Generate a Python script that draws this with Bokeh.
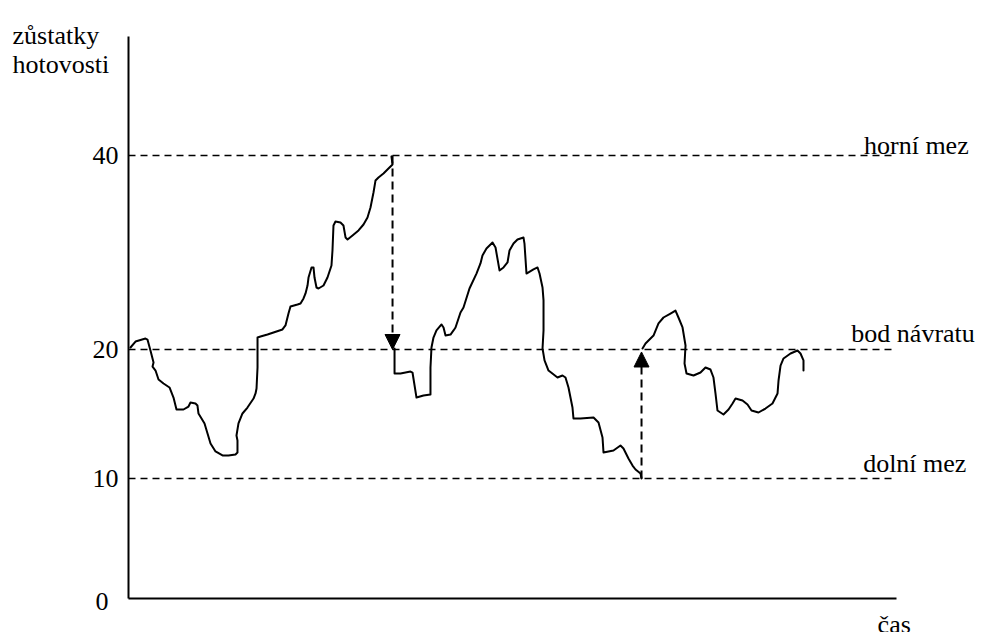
from bokeh.plotting import figure
from bokeh.models import Range1d, FixedTicker, Label, Arrow, NormalHead
from bokeh.embed import file_html
from bokeh.resources import INLINE

# ---- data (schematic units: time 0..100, cash balance on the drawn scale) ----
t1 = [0.26, 0.91, 2.21, 2.47, 2.86, 3.26, 3.13, 3.52, 3.91, 4.56, 5.34, 5.86, 6.25, 7.16, 7.81,
      8.07, 8.72, 8.98, 9.11, 9.51, 9.90, 10.29, 10.68, 11.33, 12.24, 13.02, 13.93, 14.19, 14.19,
      14.06, 14.32, 14.84, 15.49, 16.28, 16.54, 16.67, 16.80, 16.80, 17.19, 18.10, 18.88, 20.05,
      20.44, 20.83, 21.09, 22.01, 22.40, 22.79, 23.05, 23.31, 23.44, 23.83, 24.09, 24.22, 24.48,
      24.74, 25.39, 25.91, 26.43, 26.56, 26.69, 26.95, 27.60, 27.99, 28.26, 28.52, 29.17, 29.95,
      30.60, 31.12, 31.51, 31.90, 32.16, 32.55, 33.20, 33.85, 34.38, 34.24]
v1 = [20.16, 20.64, 20.88, 20.80, 19.92, 18.96, 18.63, 18.31, 17.59, 17.27, 16.95, 16.14, 15.18,
      15.18, 15.42, 15.74, 15.66, 15.50, 14.86, 14.46, 14.06, 13.25, 12.45, 11.81, 11.49, 11.49,
      11.57, 11.73, 12.69, 13.09, 14.06, 14.86, 15.34, 16.06, 16.47, 16.87, 18.55, 20.96, 21.04,
      21.20, 21.37, 21.61, 21.93, 22.89, 23.45, 23.61, 23.69, 24.10, 24.50, 25.14, 25.78, 26.59,
      26.59, 25.78, 24.98, 24.90, 25.14, 25.78, 26.75, 27.95, 29.96, 30.28, 30.20, 29.96, 29.00,
      28.84, 29.16, 29.56, 30.04, 30.60, 31.41, 32.61, 33.57, 33.82, 34.14, 34.54, 34.86, 35.50]

t2 = [34.64, 34.64, 35.42, 36.72, 36.98, 37.50, 38.41, 39.32, 39.32, 39.45, 39.71, 40.10, 40.76,
      41.02, 41.28, 41.93, 42.32, 42.58, 43.23, 43.62, 44.40, 45.31, 45.83, 46.09, 46.61, 47.40,
      47.79, 48.31, 48.83, 49.35, 49.61, 50.13, 50.65, 51.43, 51.56, 51.82, 52.73, 53.26, 53.52,
      53.91, 54.04, 54.04, 53.91, 54.17, 54.69, 55.86, 56.51, 56.90, 57.29, 57.81, 57.94, 58.85,
      60.55, 61.20, 61.72, 61.85, 63.15, 64.06, 64.45, 65.10, 65.63, 66.02, 66.67, 66.80]
v2 = [20.08, 18.07, 18.07, 18.23, 18.15, 16.14, 16.31, 16.39, 18.55, 20.16, 20.96, 21.53, 22.01,
      21.77, 21.12, 21.20, 21.53, 21.77, 22.97, 23.37, 24.90, 26.10, 26.91, 27.55, 28.11, 28.59,
      28.19, 26.35, 26.59, 26.99, 27.95, 28.51, 28.84, 29.00, 28.51, 26.10, 26.43, 26.59, 26.10,
      24.98, 23.94, 21.53, 20.08, 19.12, 18.31, 17.75, 17.91, 17.75, 16.95, 15.34, 14.46, 14.46,
      14.54, 14.14, 12.93, 11.73, 11.89, 12.29, 12.05, 11.24, 10.68, 10.36, 10.04, 9.64]

t3 = [66.93, 67.32, 67.71, 68.36, 69.01, 69.66, 70.57, 71.22, 71.61, 72.14, 72.53, 72.40, 72.66,
      73.57, 74.48, 75.13, 75.78, 76.17, 76.43, 76.69, 77.47, 78.13, 78.65, 79.04, 79.95, 80.60,
      81.12, 82.03, 82.94, 83.85, 84.51, 84.64, 84.90, 85.29, 86.20, 87.11, 87.50, 87.89, 87.89]
v3 = [20.08, 20.48, 20.72, 21.12, 22.09, 22.57, 22.89, 23.13, 22.57, 21.77, 20.32, 18.88, 18.07,
      17.91, 18.15, 18.55, 18.39, 17.75, 16.47, 15.10, 14.78, 15.18, 15.66, 16.06, 15.90, 15.58,
      15.10, 14.94, 15.26, 15.66, 16.47, 17.51, 18.71, 19.28, 19.68, 19.92, 19.68, 19.12, 18.31]

# levels (drawn positions) and their tick labels
level_names = ["horní mez", "bod návratu", "dolní mez"]
level_pos = [35.58, 20.0, 9.64]
tick_pos = [9.64, 20.0, 35.58]
tick_labels = ["10", "20", "40"]
origin_label = "0"

# arrows: (time, from level, to level)
arrow_t = [34.38, 66.80]
arrow_from = [35.58, 9.64]
arrow_to = [20.0, 19.8]

FONT = "Liberation Serif"
FS = "26px"

W, H = 975, 632
PX_X, PX_Y = 7.68, 12.45          # pixels per data unit
X0_PX, Y0_PX = 128, 598           # where the axes cross on the canvas

p = figure(width=W, height=H,
           x_range=Range1d(-X0_PX / PX_X, (W - X0_PX) / PX_X),
           y_range=Range1d(-(H - Y0_PX) / PX_Y, Y0_PX / PX_Y),
           output_backend="svg", toolbar_location=None,
           min_border_left=0, min_border_right=0, min_border_top=0, min_border_bottom=0)
p.outline_line_color = None
p.xgrid.visible = False
p.ygrid.visible = False
p.background_fill_color = "white"
p.border_fill_color = "white"

# y axis (fixed at t = 0, spanning 0 .. top of drawing)
ya = p.yaxis[0]
ya.fixed_location = 0
ya.bounds = (0, (Y0_PX - 36) / PX_Y)
ya.ticker = FixedTicker(ticks=tick_pos)
ya.major_label_overrides = {k: v for k, v in zip(tick_pos, tick_labels)}
ya.axis_line_width = 2
ya.axis_line_color = "black"
ya.major_tick_line_color = None
ya.minor_tick_line_color = None
ya.major_tick_out = 0
ya.major_tick_in = 0
ya.major_label_standoff = 10
ya.major_label_text_font = FONT
ya.major_label_text_font_size = FS
ya.major_label_text_color = "black"

# x axis (fixed at value 0, spanning time 0 .. 100)
xa = p.xaxis[0]
xa.fixed_location = 0
xa.bounds = (0, 100)
xa.ticker = FixedTicker(ticks=[])
xa.axis_line_width = 2
xa.axis_line_color = "black"
xa.major_tick_line_color = None
xa.minor_tick_line_color = None
xa.major_label_text_font_size = "0px"

# dashed level lines
line_end = 99.35
p.segment(x0=[0] * len(level_pos), y0=level_pos, x1=[line_end] * len(level_pos), y1=level_pos,
          line_color="black", line_width=1.6, line_dash="7 5")

# cash balance path
for tx, vy in ((t1, v1), (t2, v2), (t3, v3)):
    p.line(tx, vy, line_color="black", line_width=2, line_join="round", line_cap="round")

# arrows
for at, af, ato in zip(arrow_t, arrow_from, arrow_to):
    p.add_layout(Arrow(end=NormalHead(size=15, fill_color="black", line_color="black", line_width=1),
                       x_start=at, y_start=af, x_end=at, y_end=ato,
                       line_color="black", line_width=2, line_dash="8 5"))

# level labels (right aligned, above lines)
lab_x = [109.4, 110.2, 109.1]
lab_y = [36.39, 21.29, 10.87]
for name, lx, ly in zip(level_names, lab_x, lab_y):
    p.add_layout(Label(x=lx, y=ly, text=name, text_align="right", text_baseline="alphabetic",
                       text_font=FONT, text_font_size=FS, text_color="black"))

# origin label
p.add_layout(Label(x=-2.6, y=0, text=origin_label, text_align="right", text_baseline="top",
                   y_offset=6, text_font=FONT, text_font_size=FS, text_color="black"))

# axis titles
p.add_layout(Label(x=-15.1, y=45.26, text="zůstatky", text_align="left", text_baseline="alphabetic",
                   text_font=FONT, text_font_size=FS, text_color="black"))
p.add_layout(Label(x=-15.1, y=42.89, text="hotovosti", text_align="left", text_baseline="alphabetic",
                   text_font=FONT, text_font_size=FS, text_color="black"))
p.add_layout(Label(x=99.7, y=-2.1, text="čas", text_align="center", text_baseline="alphabetic",
                   text_font=FONT, text_font_size=FS, text_color="black"))

open("out.html", "w").write(file_html(p, INLINE))
